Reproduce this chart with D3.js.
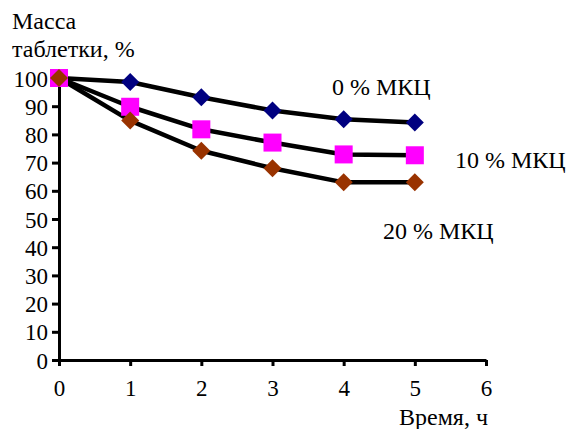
<!DOCTYPE html>
<html>
<head>
<meta charset="utf-8">
<script src="https://cdn.jsdelivr.net/npm/d3@7"></script>
<style>html,body{margin:0}</style>
</head>
<body>
<svg id="chart" width="570" height="429"></svg>
<script>
// Time points, hours
const hours = [0, 1, 2, 3, 4, 5];
// Tablet mass, % of initial, for each МКЦ content
const mcc0 = [100, 98.6, 93.2, 88.5, 85.4, 84.2];
const mcc10 = [100, 89.8, 81.8, 77.1, 72.9, 72.6];
const mcc20 = [100, 84.9, 74.2, 68.0, 63.0, 63.0];
const seriesNames = ["0 % МКЦ", "10 % МКЦ", "20 % МКЦ"];
const xTicks = [0, 1, 2, 3, 4, 5, 6];
const yTicks = [0, 10, 20, 30, 40, 50, 60, 70, 80, 90, 100];

const FONT = "Liberation Serif";
const svg = d3.select("#chart");

const x = d3.scaleLinear().domain([0, 6]).range([59, 486]);
const y = d3.scaleLinear().domain([0, 100]).range([360, 78]);

// Axes
const yAxis = d3.axisLeft(y).tickValues(yTicks).tickFormat(d3.format("d"))
  .tickSizeInner(7).tickSizeOuter(0).tickPadding(4);
const xAxis = d3.axisBottom(x).tickValues(xTicks).tickFormat(d3.format("d"))
  .tickSizeInner(6).tickSizeOuter(0).tickPadding(14);

const gy = svg.append("g").attr("transform", `translate(${x(0)},0)`).call(yAxis);
const gx = svg.append("g").attr("transform", `translate(0,${y(0)})`).call(xAxis);

[gx, gy].forEach(g => {
  g.attr("font-family", FONT).attr("font-size", 23);
  g.select(".domain").attr("stroke", "#000").attr("stroke-width", 3);
  g.selectAll(".tick line").attr("stroke", "#000").attr("stroke-width", 3);
  g.selectAll(".tick text").attr("font-family", FONT).attr("font-size", 23).attr("fill", "#000");
});
gy.selectAll(".tick text").attr("dy", "0.35em");

// Series
const series = [
  { name: seriesNames[0], values: mcc0, color: "#000080", shape: "diamond" },
  { name: seriesNames[1], values: mcc10, color: "#FF00FF", shape: "square" },
  { name: seriesNames[2], values: mcc20, color: "#993300", shape: "diamond" }
];

const line = d3.line().x((d, i) => x(hours[i])).y(d => y(d));

svg.append("g").selectAll("path")
  .data(series)
  .join("path")
  .attr("d", s => line(s.values))
  .attr("fill", "none")
  .attr("stroke", "#000")
  .attr("stroke-width", 4.5)
  .attr("stroke-linejoin", "round");

series.forEach(s => {
  const g = svg.append("g");
  s.values.forEach((v, i) => {
    const cx = x(hours[i]), cy = y(v);
    if (s.shape === "square") {
      g.append("rect")
        .attr("x", cx - 9).attr("y", cy - 9)
        .attr("width", 18).attr("height", 18)
        .attr("fill", s.color);
    } else {
      const r = 9;
      g.append("path")
        .attr("d", `M${cx},${cy - r}L${cx + r},${cy}L${cx},${cy + r}L${cx - r},${cy}Z`)
        .attr("fill", s.color);
    }
  });
});

// Text labels
function label(txt, px, py) {
  svg.append("text")
    .attr("x", px).attr("y", py)
    .attr("font-family", FONT).attr("font-size", 24).attr("fill", "#000")
    .text(txt);
}
const labelPos = [[332, 95], [455, 168], [383, 239]];
series.forEach((s, i) => label(s.name, labelPos[i][0], labelPos[i][1]));

label("Масса", 12, 29);
label("таблетки, %", 12, 57);
label("Время, ч", 399, 425);
</script>
</body>
</html>
